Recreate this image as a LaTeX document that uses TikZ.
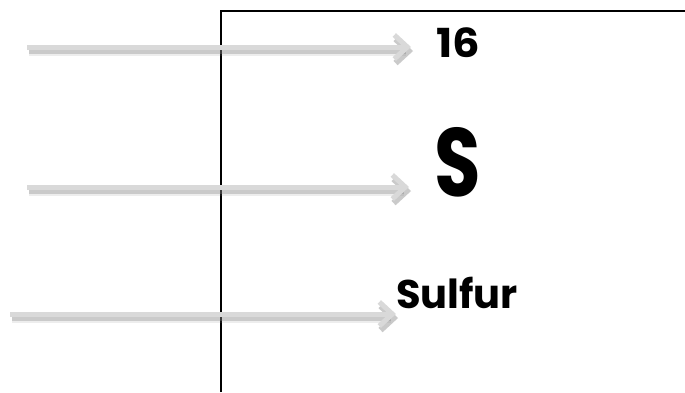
\documentclass[tikz,border=0pt]{standalone}
\usepackage{fontspec}
\setmainfont{Poppins}
\usetikzlibrary{arrows.meta}
\definecolor{arrowgray}{HTML}{D9D9D9}
\definecolor{shadowgray}{HTML}{8A8A8A}
\tikzset{
  boxline/.style={line width=2pt, black},
  arr/.style={line width=5pt, arrowgray, -{Straight Barb[length=13pt,width=24pt,line width=5pt]}},
  arrshadow/.style={line width=6pt, shadowgray, opacity=0.35, -{Straight Barb[length=13pt,width=24pt,line width=6pt]}},
  lbl/.style={inner sep=0pt, anchor=base west, font=\bfseries}
}
\begin{document}
\begin{tikzpicture}[x=1pt,y=-1pt]
\useasboundingbox (0,0) rectangle (685,392);
\fill[white] (0,0) rectangle (685,392);
% box
\coordinate (bl) at (221,392);
\coordinate (tl) at (221,11);
\coordinate (tr) at (686,11);
\draw[boxline] (bl) -- (tl) -- (tr);
% labels
\node[lbl, xscale=1.08, font=\fontsize{40}{40}\selectfont\bfseries] (n16) at (436,57) {16};
\node[lbl, xscale=0.78, font=\fontsize{97}{97}\selectfont\bfseries] (nS) at (434,196) {S};
\node[lbl, font=\fontsize{40}{40}\selectfont\bfseries] (nSul) at (396,308) {Sulfur};
% arrow endpoints
\coordinate (a1s) at (27,47);  \coordinate (a1e) at (411,47);
\coordinate (a2s) at (27,187); \coordinate (a2e) at (409,187);
\coordinate (a3s) at (10,314); \coordinate (a3e) at (396,314);
% shadows
\foreach \s/\e in {a1s/a1e, a2s/a2e, a3s/a3e}{
  \draw[arrshadow] ([shift={(2,4)}]\s) -- ([shift={(2,4)}]\e);
  \draw[arrshadow, opacity=0.15, line width=10pt] ([shift={(2,4)}]\s) -- ([shift={(2,4)}]\e);
}
% arrows
\draw[arr] (a1s) -- (a1e);
\draw[arr] (a2s) -- (a2e);
\draw[arr] (a3s) -- (a3e);
\end{tikzpicture}
\end{document}
